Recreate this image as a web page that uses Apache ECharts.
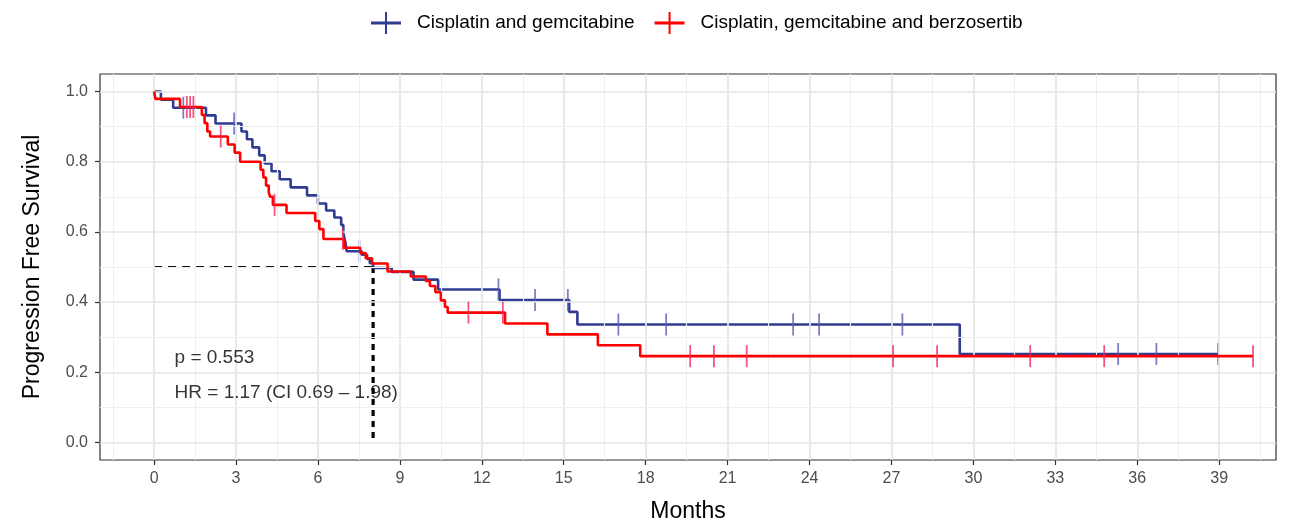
<!DOCTYPE html>
<html>
<head>
<meta charset="utf-8">
<script src="https://cdn.jsdelivr.net/npm/echarts@6/dist/echarts.min.js"></script>
<style>
  html, body { margin: 0; padding: 0; background: #ffffff; }
  #chart { width: 1289px; height: 524px; }
</style>
</head>
<body>
<div id="chart"></div>
<script>
// Treatment arms
const groupNames = ['Cisplatin and gemcitabine', 'Cisplatin, gemcitabine and berzosertib'];

// Kaplan–Meier steps for each arm: month of each drop and survival after it
const cgTimes = [0, 0.25, 0.7, 1.9, 2.25, 3.2, 3.4, 3.6, 3.85, 4.05, 4.3, 4.6, 5.0, 5.6, 6.0, 6.3, 6.6, 6.85, 6.93, 7.0, 7.05, 7.6, 7.8, 7.9, 8.02, 8.7, 9.5, 10.4, 12.65, 15.2, 15.5, 29.5];
const cgSurv  = [1.0, 0.977, 0.954, 0.932, 0.909, 0.886, 0.864, 0.841, 0.818, 0.795, 0.773, 0.75, 0.727, 0.704, 0.681, 0.661, 0.641, 0.62, 0.597, 0.572, 0.545, 0.535, 0.523, 0.511, 0.497, 0.486, 0.464, 0.436, 0.406, 0.372, 0.336, 0.252];
const cgCensor = [1.07, 2.93, 7.52, 12.61, 13.95, 15.15, 17.0, 18.75, 23.4, 24.35, 27.4, 35.3, 36.7, 38.96];

const cgbTimes = [0, 0.05, 0.95, 1.75, 1.85, 1.95, 2.05, 2.7, 2.95, 3.15, 3.9, 4.0, 4.1, 4.2, 4.25, 4.35, 4.85, 5.9, 6.05, 6.2, 6.95, 7.55, 7.75, 7.98, 8.55, 9.4, 9.95, 10.1, 10.3, 10.5, 10.65, 10.75, 12.85, 14.4, 16.25, 17.8];
const cgbSurv  = [1.0, 0.979, 0.956, 0.933, 0.91, 0.886, 0.872, 0.849, 0.826, 0.80, 0.777, 0.755, 0.732, 0.712, 0.70, 0.677, 0.654, 0.631, 0.608, 0.58, 0.555, 0.54, 0.525, 0.51, 0.487, 0.473, 0.46, 0.446, 0.428, 0.405, 0.386, 0.37, 0.339, 0.308, 0.277, 0.246];
const cgbCensor = [1.2, 1.32, 1.44, 2.44, 4.41, 6.91, 11.51, 12.77, 19.63, 20.5, 21.7, 27.06, 28.67, 32.08, 34.79, 40.24];

// Median survival reference
const medianMonths = 8.02;
const medianSurv = 0.5;

// Axis ticks
const monthTicks = [0, 3, 6, 9, 12, 15, 18, 21, 24, 27, 30, 33, 36, 39];
const survTicks = [0.0, 0.2, 0.4, 0.6, 0.8, 1.0];

// Statistics annotation
const statLines = ['p = 0.553', 'HR = 1.17 (CI 0.69 \u2013 1.98)'];
const statPos = [[0.75, 0.24], [0.75, 0.143]];

const blue = '#2f3c91';
const red = '#ff0000';
const blueTick = '#5a5fb8';
const redTick = '#f2295f';

function survAt(times, surv, t) {
  let s = surv[0];
  for (let i = 0; i < times.length; i++) if (times[i] <= t) s = surv[i];
  return s;
}
function stepData(times, surv, censor) {
  const pts = times.map((t, i) => [t, surv[i]]);
  const last = censor[censor.length - 1];
  pts.push([last, survAt(times, surv, last)]);
  return pts;
}
function censorData(times, surv, censor) {
  return censor.map(t => [t, survAt(times, surv, t)]);
}

// Grid lines: majors on the ticks, minors halfway between them
const xMinor = [-1.5].concat(monthTicks.map(v => v + 1.5));
const yMinor = survTicks.slice(0, -1).map(v => +(v + 0.1).toFixed(2));
const majorStyle = { color: '#e6e6e6', width: 1.7, type: 'solid' };
const minorStyle = { color: '#efefef', width: 1.1, type: 'solid' };
const gridLines = []
  .concat(monthTicks.map(v => ({ xAxis: v, lineStyle: majorStyle })))
  .concat(xMinor.map(v => ({ xAxis: v, lineStyle: minorStyle })))
  .concat(survTicks.map(v => ({ yAxis: v, lineStyle: majorStyle })))
  .concat(yMinor.map(v => ({ yAxis: v, lineStyle: minorStyle })));

const font = '"Liberation Sans", Arial, sans-serif';
const chart = echarts.init(document.getElementById('chart'), null, { renderer: 'canvas' });

chart.setOption({
  backgroundColor: '#ffffff',
  animation: false,
  textStyle: { fontFamily: font },
  legend: {
    data: groupNames,
    top: 7,
    left: 366,
    itemWidth: 30,
    itemHeight: 22,
    itemGap: 20,
    icon: 'path://M0,9.5h30v3h-30z M14,0h2v22h-2z',
    textStyle: { fontSize: 19, color: '#000000', fontFamily: font, padding: [0, 0, 0, 11] }
  },
  grid: {
    left: 100, right: 13, top: 74, bottom: 64,
    outerBoundsMode: 'none',
    containLabel: false,
    show: true, borderColor: '#333333', borderWidth: 1.2, backgroundColor: 'transparent'
  },
  xAxis: {
    type: 'value', min: -1.98, max: 41.08,
    name: 'Months', nameLocation: 'middle', nameGap: 40,
    nameTextStyle: { fontSize: 23, color: '#000000', fontFamily: font },
    axisLine: { show: false, onZero: false },
    splitLine: { show: false },
    axisTick: { show: true, inside: false, length: 5, lineStyle: { color: '#333333', width: 1.2 }, customValues: monthTicks },
    axisLabel: { customValues: monthTicks, fontSize: 16, color: '#4d4d4d', margin: 11, fontFamily: font, formatter: v => String(v) }
  },
  yAxis: {
    type: 'value', min: -0.05, max: 1.05,
    name: 'Progression Free Survival', nameLocation: 'middle', nameGap: 56,
    nameTextStyle: { fontSize: 23, color: '#000000', fontFamily: font },
    axisLine: { show: false, onZero: false },
    splitLine: { show: false },
    axisTick: { show: true, inside: false, length: 5, lineStyle: { color: '#333333', width: 1.2 }, customValues: survTicks },
    axisLabel: { customValues: survTicks, fontSize: 16, color: '#4d4d4d', margin: 12, fontFamily: font, formatter: v => v.toFixed(1) }
  },
  series: [
    {
      type: 'line', name: 'grid', data: [], silent: true, z: 0,
      markLine: { silent: true, symbol: 'none', label: { show: false }, animation: false, data: gridLines }
    },
    {
      type: 'line', name: 'median-h', z: 1, silent: true, showSymbol: false,
      data: [[0, medianSurv], [medianMonths, medianSurv]],
      lineStyle: { color: '#111111', width: 2, type: [8, 6] }
    },
    {
      type: 'line', name: 'median-v', z: 1, silent: true, showSymbol: false,
      data: [[medianMonths, medianSurv], [medianMonths, 0]],
      lineStyle: { color: '#000000', width: 3.2, type: [6, 5] }
    },
    {
      type: 'line', name: groupNames[0], step: 'end', showSymbol: false, z: 3,
      data: stepData(cgTimes, cgSurv, cgCensor),
      itemStyle: { color: blue },
      lineStyle: { color: blue, width: 2.6 }
    },
    {
      type: 'scatter', name: 'cg-censor', z: 4, silent: true,
      symbol: 'rect', symbolSize: [1.8, 22],
      itemStyle: { color: blueTick },
      data: censorData(cgTimes, cgSurv, cgCensor)
    },
    {
      type: 'line', name: groupNames[1], step: 'end', showSymbol: false, z: 5,
      data: stepData(cgbTimes, cgbSurv, cgbCensor),
      itemStyle: { color: red },
      lineStyle: { color: red, width: 2.6 }
    },
    {
      type: 'scatter', name: 'cgb-censor', z: 6, silent: true,
      symbol: 'rect', symbolSize: [1.8, 22],
      itemStyle: { color: redTick },
      data: censorData(cgbTimes, cgbSurv, cgbCensor)
    },
    {
      type: 'scatter', name: 'stats', z: 7, silent: true,
      symbolSize: 0, itemStyle: { color: 'transparent' },
      data: statLines.map((txt, i) => ({ value: statPos[i], label: { formatter: txt } })),
      label: { show: true, position: 'right', distance: 0, fontSize: 19, color: '#000000', fontFamily: font }
    }
  ]
});
</script>
</body>
</html>
